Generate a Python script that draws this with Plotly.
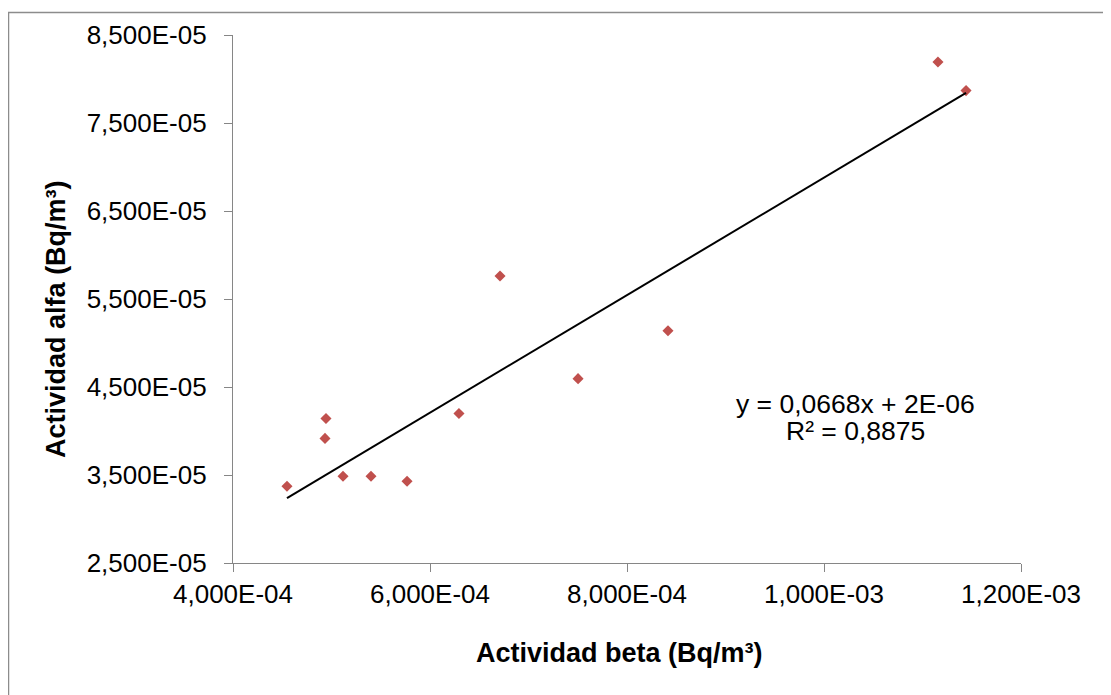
import plotly.graph_objects as go

# Data
beta = [4.548e-4, 4.934e-4, 4.944e-4, 5.117e-4, 5.401e-4, 5.767e-4,
        6.294e-4, 6.711e-4, 7.503e-4, 8.416e-4, 1.1157e-3, 1.1442e-3]
alfa = [3.372e-5, 3.916e-5, 4.142e-5, 3.485e-5, 3.485e-5, 3.430e-5,
        4.199e-5, 5.762e-5, 4.595e-5, 5.139e-5, 8.194e-5, 7.868e-5]

slope = 0.0668
intercept = 2e-6

x_tickvals = [4e-4, 6e-4, 8e-4, 1e-3, 1.2e-3]
x_ticktext = ["4,000E-04", "6,000E-04", "8,000E-04", "1,000E-03", "1,200E-03"]
y_tickvals = [2.5e-5, 3.5e-5, 4.5e-5, 5.5e-5, 6.5e-5, 7.5e-5, 8.5e-5]
y_ticktext = ["2,500E-05", "3,500E-05", "4,500E-05", "5,500E-05",
              "6,500E-05", "7,500E-05", "8,500E-05"]

eq_text = "y = 0,0668x + 2E-06"
r2_text = "R² = 0,8875"
x_title = "Actividad beta (Bq/m³)"
y_title = "Actividad alfa (Bq/m³)"

FONT = "Liberation Sans, Arial, sans-serif"
AXIS_COLOR = "#868686"

x_line = [min(beta), max(beta)]
y_line = [slope * v + intercept for v in x_line]

fig = go.Figure()
fig.add_trace(go.Scatter(
    x=beta, y=alfa, mode="markers",
    marker=dict(symbol="diamond", size=8.5, color="#C0504D"),
    showlegend=False, hoverinfo="x+y"))
fig.add_trace(go.Scatter(
    x=x_line, y=y_line, mode="lines",
    line=dict(color="black", width=2),
    showlegend=False, hoverinfo="skip"))

OFF = 8  # page body margin
W, H = 1103, 687
L, R, T, B = 225, 90, 25, 132
pw, ph = W - L - R, H - T - B

def px_to_paper_x(px):
    return (px - OFF - L) / pw

def px_to_paper_y(py):
    return (H - B - (py - OFF)) / ph

fig.update_layout(
    width=W, height=H,
    margin=dict(l=L, r=R, t=T, b=B),
    paper_bgcolor="white", plot_bgcolor="white",
    font=dict(family=FONT, size=26, color="black"),
    xaxis=dict(range=[4e-4, 1.2e-3], tickvals=x_tickvals, ticktext=x_ticktext,
               showgrid=False, zeroline=False, showline=True,
               linecolor=AXIS_COLOR, linewidth=1.3,
               ticks="outside", ticklen=8, tickcolor=AXIS_COLOR, tickwidth=1.3,
               tickfont=dict(size=26, family=FONT, color="black")),
    yaxis=dict(range=[2.5e-5, 8.5e-5], tickvals=y_tickvals, ticktext=y_ticktext,
               showgrid=False, zeroline=False, showline=True,
               linecolor=AXIS_COLOR, linewidth=1.3,
               ticks="outside", ticklen=8, tickcolor=AXIS_COLOR, tickwidth=1.3,
               ticklabelstandoff=12,
               tickfont=dict(size=26, family=FONT, color="black")),
    shapes=[dict(type="rect", xref="paper", yref="paper", layer="below",
                 x0=px_to_paper_x(8.5), x1=px_to_paper_x(W + 40),
                 y0=px_to_paper_y(H + 40), y1=px_to_paper_y(10.5),
                 line=dict(color="#8c8c8c", width=1.5))],
    annotations=[
        dict(text=eq_text, x=px_to_paper_x(855), y=px_to_paper_y(403),
             xref="paper", yref="paper", showarrow=False,
             xanchor="center", yanchor="middle",
             font=dict(size=26.5, family=FONT, color="black")),
        dict(text=r2_text, x=px_to_paper_x(855), y=px_to_paper_y(430),
             xref="paper", yref="paper", showarrow=False,
             xanchor="center", yanchor="middle",
             font=dict(size=26.5, family=FONT, color="black")),
        dict(text="<b>" + x_title + "</b>", x=px_to_paper_x(619), y=px_to_paper_y(653),
             xref="paper", yref="paper", showarrow=False,
             xanchor="center", yanchor="middle",
             font=dict(size=27, family=FONT, color="black")),
        dict(text="<b>" + y_title + "</b>", x=px_to_paper_x(56), y=px_to_paper_y(318),
             xref="paper", yref="paper", showarrow=False, textangle=-90,
             xanchor="center", yanchor="middle",
             font=dict(size=27, family=FONT, color="black")),
    ],
)

fig.write_html("out.html")
